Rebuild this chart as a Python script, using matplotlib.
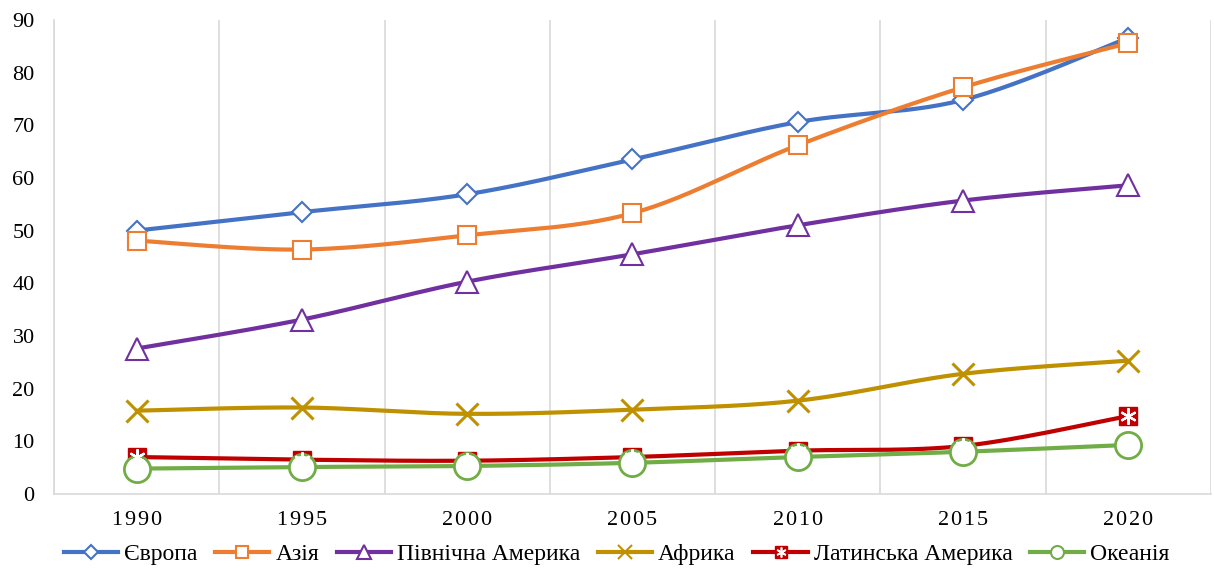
import numpy as np
import matplotlib.pyplot as plt
from matplotlib.lines import Line2D

plt.rcParams['font.family'] = ['Liberation Serif', 'DejaVu Serif']

# Data
years = ["1990", "1995", "2000", "2005", "2010", "2015", "2020"]
europe = [50.0, 53.5, 56.9, 63.5, 70.6, 74.8, 86.6]
asia = [48.1, 46.4, 49.1, 53.3, 66.2, 77.2, 85.6]
north_america = [27.6, 33.1, 40.3, 45.5, 51.0, 55.7, 58.6]
africa = [15.8, 16.4, 15.2, 16.0, 17.7, 22.8, 25.3]
latin_america = [7.0, 6.5, 6.3, 7.0, 8.2, 9.1, 14.8]
oceania = [4.8, 5.1, 5.3, 5.9, 7.0, 8.0, 9.3]

series = [
    ("Європа", europe, "#4472C4"),
    ("Азія", asia, "#ED7D31"),
    ("Північна Америка", north_america, "#7030A0"),
    ("Африка", africa, "#BF9000"),
    ("Латинська Америка", latin_america, "#C00000"),
    ("Океанія", oceania, "#70AD47"),
]


# Excel-like smoothed line (Catmull-Rom through the data points)
def smooth(y, steps=30):
    y = np.asarray(y, dtype=float)
    x = np.arange(len(y), dtype=float)
    px = np.concatenate([[x[0]], x, [x[-1]]])
    py = np.concatenate([[y[0]], y, [y[-1]]])
    xs, ys = [], []
    t = np.linspace(0, 1, steps)
    for i in range(1, len(px) - 2):
        p0, p1, p2, p3 = px[i - 1], px[i], px[i + 1], px[i + 2]
        q0, q1, q2, q3 = py[i - 1], py[i], py[i + 1], py[i + 2]
        # bezier control points
        c1x, c1y = p1 + (p2 - p0) / 6, q1 + (q2 - q0) / 6
        c2x, c2y = p2 - (p3 - p1) / 6, q2 - (q3 - q1) / 6
        bx = (1 - t) ** 3 * p1 + 3 * (1 - t) ** 2 * t * c1x + 3 * (1 - t) * t ** 2 * c2x + t ** 3 * p2
        by = (1 - t) ** 3 * q1 + 3 * (1 - t) ** 2 * t * c1y + 3 * (1 - t) * t ** 2 * c2y + t ** 3 * q2
        xs.extend(bx)
        ys.extend(by)
    return np.array(xs), np.array(ys)


def marker_style(name, col, ms):
    if name == "Європа":
        return dict(marker="D", markersize=ms * 0.8, markerfacecolor="white",
                    markeredgecolor=col, markeredgewidth=1.5)
    if name == "Азія":
        return dict(marker="s", markersize=ms * 1.05, markerfacecolor="white",
                    markeredgecolor=col, markeredgewidth=1.5)
    if name == "Північна Америка":
        return dict(marker="^", markersize=ms * 1.25, markerfacecolor="white",
                    markeredgecolor=col, markeredgewidth=1.5)
    if name == "Африка":
        return dict(marker="x", markersize=ms * 1.2, markeredgecolor=col,
                    markeredgewidth=2.2)
    if name == "Латинська Америка":
        return dict(marker="s", markersize=ms * 0.95, markerfacecolor=col,
                    markeredgecolor=col, markeredgewidth=1)
    return dict(marker="o", markersize=ms * 1.45, markerfacecolor="white",
                markeredgecolor=col, markeredgewidth=2)


fig = plt.figure(figsize=(12.14, 5.69), dpi=100)
ax = fig.add_axes([0.0445, 0.132, 0.953, 0.833])

x = np.arange(len(years))
lw = 3.0
ms = 13
ms_leg = 8.5

# vertical gridlines at category boundaries
for b in np.arange(-0.5, len(years) + 0.5, 1):
    ax.axvline(b, color="#D9D9D9", lw=1.2, zorder=0)

handles = []
for name, vals, col in series:
    sx, sy = smooth(vals)
    ax.plot(sx, sy, color=col, lw=lw, zorder=2, solid_capstyle="round")
    ax.plot(x, vals, linestyle="none", zorder=3, **marker_style(name, col, ms))
    leg_kw = marker_style(name, col, ms_leg)
    leg_kw["markeredgewidth"] = min(leg_kw["markeredgewidth"], 1.5)
    if name == "Океанія":
        leg_kw["markersize"] = ms_leg * 1.1
    if name == "Латинська Америка":
        ax.plot(x, vals, linestyle="none", marker=(6, 2, 0), markersize=ms * 0.9,
                markeredgecolor="white", markeredgewidth=1.6, zorder=4)
        h1 = Line2D([], [], color=col, lw=lw, **leg_kw)
        h2 = Line2D([], [], linestyle="none", marker=(6, 2, 0), markersize=ms_leg * 0.85,
                    markeredgecolor="white", markeredgewidth=1.2)
        handles.append((h1, h2))
    else:
        handles.append(Line2D([], [], color=col, lw=lw, **leg_kw))

ax.set_xlim(-0.5, len(years) - 0.5)
ax.set_ylim(0, 90)
ax.set_yticks(np.arange(0, 91, 10))
ax.set_xticks(x)
ax.set_xticklabels(["\u200a".join(y) for y in years])
ax.tick_params(axis="both", length=0, labelsize=16)
ax.tick_params(axis="x", pad=12)
ax.tick_params(axis="y", pad=14)
for s in ["top", "right"]:
    ax.spines[s].set_visible(False)
for s in ["left", "bottom"]:
    ax.spines[s].set_color("#D9D9D9")
    ax.spines[s].set_linewidth(1.2)

fig.legend(handles, [s[0] for s in series], loc="lower center",
           bbox_to_anchor=(0.508, -0.03), ncol=6, frameon=False, fontsize=17,
           handlelength=2.3, handletextpad=0.25, columnspacing=0.75)

fig.savefig("out.png", dpi=100)
